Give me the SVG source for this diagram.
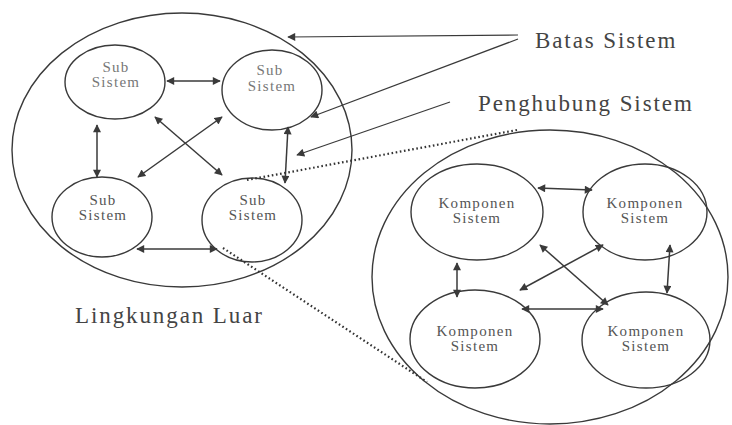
<svg xmlns="http://www.w3.org/2000/svg" width="732" height="425" viewBox="0 0 732 425">
<defs>
<marker id="ah" viewBox="0 0 10 10" refX="9" refY="5" markerWidth="9" markerHeight="8" markerUnits="userSpaceOnUse" orient="auto-start-reverse">
<path d="M0,0 L10,5 L0,10 z" fill="#3a3a3a"/>
</marker>
</defs>
<style>
.bound{fill:none;stroke:#3a3a3a;stroke-width:1.4}
.node{fill:none;stroke:#3a3a3a;stroke-width:1.4}
.t{font-family:"Liberation Serif","Times New Roman",serif;fill:#555;text-anchor:middle;font-size:15px;letter-spacing:1.3px}
.lt{fill:#777}
.lbl{font-family:"Liberation Serif","Times New Roman",serif;fill:#444;font-size:23px;letter-spacing:1.9px}
.arr{fill:none;stroke:#3a3a3a;stroke-width:1.5;marker-start:url(#ah);marker-end:url(#ah)}
.ptr{fill:none;stroke:#3a3a3a;stroke-width:1.2;marker-end:url(#ah)}
.dot{fill:none;stroke:#333;stroke-width:2.2;stroke-dasharray:1.6 2.6}
</style>
<rect width="732" height="425" fill="#fff"/>

<g id="boundary-left"><ellipse class="bound" cx="182" cy="150" rx="170" ry="137"/></g>
<g id="boundary-right"><ellipse class="bound" cx="550" cy="277" rx="178" ry="147"/></g>

<g id="sub-tl"><ellipse class="node" cx="115" cy="82" rx="50" ry="37"/><text class="t lt" x="116" y="72">Sub</text><text class="t lt" x="116" y="87">Sistem</text></g>
<g id="sub-tr"><ellipse class="node" cx="272" cy="90" rx="50" ry="40"/><text class="t lt" x="270" y="75">Sub</text><text class="t lt" x="272" y="91">Sistem</text></g>
<g id="sub-bl"><ellipse class="node" cx="102" cy="217" rx="50" ry="40"/><text class="t" x="103" y="205">Sub</text><text class="t" x="103" y="220">Sistem</text></g>
<g id="sub-br"><ellipse class="node" cx="252" cy="220" rx="50" ry="42"/><text class="t" x="253" y="205">Sub</text><text class="t" x="253" y="220">Sistem</text></g>

<g id="komp-tl"><ellipse class="node" cx="477" cy="212" rx="66" ry="48"/><text class="t" x="477" y="208">Komponen</text><text class="t" x="477" y="223">Sistem</text></g>
<g id="komp-tr"><ellipse class="node" cx="645" cy="212" rx="62" ry="48"/><text class="t" x="645" y="208">Komponen</text><text class="t" x="645" y="223">Sistem</text></g>
<g id="komp-bl"><ellipse class="node" cx="475" cy="339" rx="65" ry="49"/><text class="t" x="475" y="336">Komponen</text><text class="t" x="475" y="351">Sistem</text></g>
<g id="komp-br"><ellipse class="node" cx="646" cy="340" rx="64" ry="48"/><text class="t" x="646" y="336">Komponen</text><text class="t" x="646" y="351">Sistem</text></g>

<g id="labels">
<text class="lbl" x="535" y="48">Batas Sistem</text>
<text class="lbl" x="478" y="111">Penghubung Sistem</text>
<text class="lbl" x="75" y="323">Lingkungan Luar</text>
</g>

<g id="connectors">
<line class="arr" x1="167" y1="81" x2="220" y2="81"/>
<line class="arr" x1="97" y1="125" x2="97" y2="177"/>
<line class="arr" x1="155" y1="117" x2="222" y2="175"/>
<line class="arr" x1="222" y1="117" x2="138" y2="177"/>
<line class="arr" x1="288" y1="127" x2="285" y2="183"/>
<line class="arr" x1="137" y1="249" x2="217" y2="249"/>

<line class="arr" x1="538" y1="188" x2="592" y2="190"/>
<line class="arr" x1="540" y1="245" x2="608" y2="305"/>
<line class="arr" x1="603" y1="245" x2="520" y2="290"/>
<line class="arr" x1="522" y1="309" x2="603" y2="309"/>
<line class="arr" x1="670" y1="245" x2="667" y2="293"/>
<line class="arr" x1="457" y1="263" x2="457" y2="297"/>

<polyline class="ptr" points="518,35 288,37"/>
<line class="ptr" x1="518" y1="39" x2="311" y2="117"/>
<line class="ptr" x1="450" y1="102" x2="297" y2="155"/>

<line class="dot" x1="247" y1="180" x2="517" y2="130"/>
<line class="dot" x1="223" y1="248" x2="427" y2="382"/>
</g>
</svg>
